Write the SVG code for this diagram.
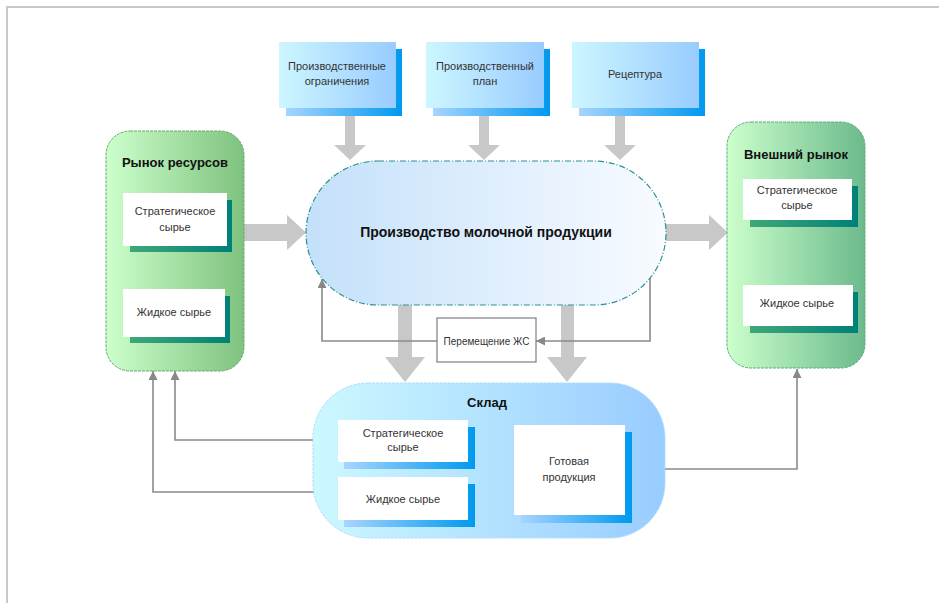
<svg xmlns="http://www.w3.org/2000/svg" width="939" height="603" viewBox="0 0 939 603">
<defs>
<linearGradient id="gTop" x1="0" y1="0" x2="1" y2="0"><stop offset="0" stop-color="#ccf6ff"/><stop offset="1" stop-color="#99ccff"/></linearGradient>
<linearGradient id="gBlueSh" x1="0" y1="0" x2="1" y2="0"><stop offset="0" stop-color="#a8d4ff"/><stop offset="1" stop-color="#0099ee"/></linearGradient>
<linearGradient id="gMain" x1="0" y1="0" x2="1" y2="0"><stop offset="0" stop-color="#c4e0fa"/><stop offset="1" stop-color="#f8fbff"/></linearGradient>
<linearGradient id="gGreenL" x1="0" y1="0" x2="1" y2="0"><stop offset="0" stop-color="#ccffcc"/><stop offset="1" stop-color="#7fc27f"/></linearGradient>
<linearGradient id="gGreenR" x1="0" y1="0" x2="1" y2="0"><stop offset="0" stop-color="#ccffcc"/><stop offset="1" stop-color="#6cba8c"/></linearGradient>
<linearGradient id="gTealSh" x1="0" y1="0" x2="1" y2="0"><stop offset="0" stop-color="#40a878"/><stop offset="1" stop-color="#008078"/></linearGradient>
<linearGradient id="gStore" x1="0" y1="0" x2="1" y2="0"><stop offset="0" stop-color="#ccf8ff"/><stop offset="1" stop-color="#99ccff"/></linearGradient>
<marker id="ah" viewBox="0 0 10 10" refX="10" refY="5" markerWidth="10" markerHeight="9" markerUnits="userSpaceOnUse" orient="auto"><path d="M0,0 L10,5 L0,10 z" fill="#888888"/></marker>
</defs>
<style>
.frame{stroke:#c8c8c8;stroke-width:2;fill:none}
.big{fill:#c8c8c8}
.ln{fill:none;stroke:#8a8a8a;stroke-width:1.6}
.t{font-family:"Liberation Sans",Arial,sans-serif;font-size:11px;fill:#333333;text-anchor:middle}
.ts{font-family:"Liberation Sans",Arial,sans-serif;font-size:10px;fill:#333333;text-anchor:middle}
.tb{font-family:"Liberation Sans",Arial,sans-serif;font-size:13px;font-weight:bold;fill:#111111;text-anchor:middle}
.tm{font-family:"Liberation Sans",Arial,sans-serif;font-size:14px;font-weight:bold;fill:#111111;text-anchor:middle}
.white{fill:#ffffff}
</style>
<rect width="939" height="603" fill="#ffffff"/>
<path class="frame" d="M7,603 V7 H939"/>

<g id="connectors">
<polygon class="big" points="345,110 355,110 355,145 366,145 350,160 334,145 345,145"/>
<polygon class="big" points="479,110 489,110 489,145 500,145 484,160 468,145 479,145"/>
<polygon class="big" points="615,110 625,110 625,145 636,145 620,160 604,145 615,145"/>
<polygon class="big" points="243,224 287,224 287,215 306,232.5 287,250 287,241 243,241"/>
<polygon class="big" points="664,224 709,224 709,215 728,232.5 709,250 709,241 664,241"/>
<polygon class="big" points="398,300 412,300 412,357 425,357 405,382 385,357 398,357"/>
<polygon class="big" points="561,300 574,300 574,357 587,357 567,382 547,357 561,357"/>
<path class="ln" d="M650,278 V341 H536" marker-end="url(#ah)"/>
<path class="ln" d="M437,341 H322 V279" marker-end="url(#ah)"/>
<path class="ln" d="M313,440 H175 V371" marker-end="url(#ah)"/>
<path class="ln" d="M314,492 H153 V371" marker-end="url(#ah)"/>
<path class="ln" d="M665,469 H797 V369" marker-end="url(#ah)"/>
</g>

<g id="constraints">
<rect x="286" y="49" width="116" height="67" fill="url(#gBlueSh)"/>
<rect x="279" y="42" width="117" height="66" fill="url(#gTop)"/>
<text class="t" x="337" y="70">Производственные</text>
<text class="t" x="337" y="85">ограничения</text>
</g>
<g id="plan">
<rect x="433" y="49" width="117" height="67" fill="url(#gBlueSh)"/>
<rect x="426" y="42" width="118" height="66" fill="url(#gTop)"/>
<text class="t" x="485" y="70">Производственный</text>
<text class="t" x="485" y="85">план</text>
</g>
<g id="recipe">
<rect x="579" y="49" width="126" height="67" fill="url(#gBlueSh)"/>
<rect x="572" y="42" width="127" height="66" fill="url(#gTop)"/>
<text class="t" x="635" y="78">Рецептура</text>
</g>

<g id="production">
<rect x="306" y="161" width="360" height="144" rx="72" ry="72" fill="url(#gMain)" stroke="#2a9090" stroke-width="1.2" stroke-dasharray="6 2 1 2"/>
<text class="tm" x="486" y="237">Производство молочной продукции</text>
</g>

<g id="resource-market">
<rect x="106" y="131" width="138" height="240" rx="24" ry="24" fill="url(#gGreenL)" stroke="#66aa66" stroke-width="1" stroke-dasharray="3 1"/>
<text class="tb" x="175" y="167">Рынок ресурсов</text>
<rect x="130" y="200" width="102" height="52" fill="url(#gTealSh)"/>
<rect x="123" y="193" width="104" height="53" class="white"/>
<text class="t" x="175" y="215">Стратегическое</text>
<text class="t" x="175" y="231">сырье</text>
<rect x="130" y="296" width="100" height="47" fill="url(#gTealSh)"/>
<rect x="123" y="289" width="102" height="48" class="white"/>
<text class="t" x="174" y="316">Жидкое сырье</text>
</g>

<g id="external-market">
<rect x="727" y="122" width="138" height="246" rx="24" ry="24" fill="url(#gGreenR)" stroke="#5aaa80" stroke-width="1" stroke-dasharray="3 1"/>
<text class="tb" x="796" y="159">Внешний рынок</text>
<rect x="750" y="186" width="108" height="41" fill="url(#gTealSh)"/>
<rect x="743" y="179" width="109" height="41" class="white"/>
<text class="t" x="797" y="194">Стратегическое</text>
<text class="t" x="797" y="209">сырье</text>
<rect x="750" y="292" width="108" height="41" fill="url(#gTealSh)"/>
<rect x="743" y="285" width="110" height="41" class="white"/>
<text class="t" x="797" y="307">Жидкое сырье</text>
</g>

<g id="transfer">
<rect x="437" y="318" width="99" height="44" fill="#ffffff" stroke="#888888" stroke-width="1.3"/>
<text class="ts" x="486.5" y="344.5">Перемещение ЖС</text>
</g>

<g id="warehouse">
<rect x="313" y="383" width="352" height="155" rx="55" ry="55" fill="url(#gStore)" stroke="#b0dcff" stroke-width="1" stroke-dasharray="3 1"/>
<text class="tb" x="487" y="407">Склад</text>
<rect x="344" y="427" width="131" height="42" fill="url(#gBlueSh)"/>
<rect x="338" y="420" width="130" height="42" class="white"/>
<text class="t" x="403" y="437">Стратегическое</text>
<text class="t" x="403" y="451">сырье</text>
<rect x="344" y="484" width="131" height="43" fill="url(#gBlueSh)"/>
<rect x="338" y="477" width="130" height="43" class="white"/>
<text class="t" x="403" y="503">Жидкое сырье</text>
<rect x="521" y="432" width="111" height="91" fill="url(#gBlueSh)"/>
<rect x="514" y="425" width="111" height="90" class="white"/>
<text class="t" x="569" y="465">Готовая</text>
<text class="t" x="569" y="481">продукция</text>
</g>
</svg>
